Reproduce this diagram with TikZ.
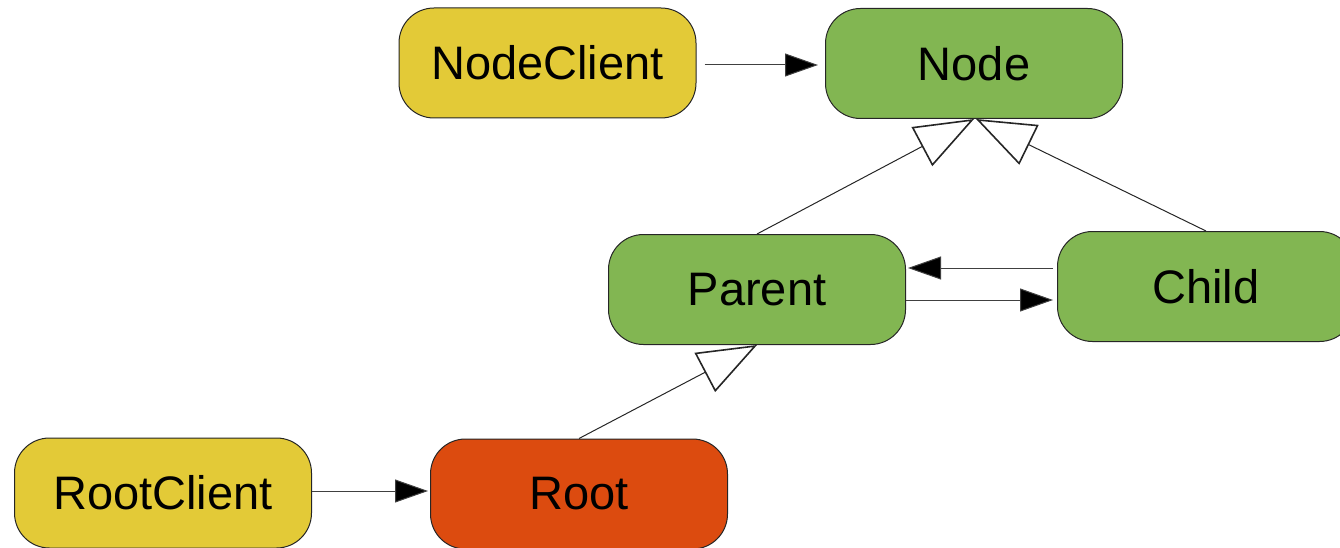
\documentclass[tikz,border=0pt]{standalone}
\usepackage{fontspec}
\setmainfont{Liberation Sans}
\usetikzlibrary{arrows.meta}
\definecolor{cyellow}{RGB}{227,202,55}
\definecolor{cgreen}{RGB}{130,182,82}
\definecolor{cred}{RGB}{220,75,15}
\tikzset{
  box/.style={draw=black!85, line width=1pt, rounded corners=35pt, minimum width=297pt, minimum height=110pt, inner sep=0pt, font=\fontsize{47}{52}\selectfont},
  assoc/.style={draw=black!75, line width=1pt, -{Triangle[length=33pt,width=23pt,fill=black]}},
  inherit/.style={draw=black!85, line width=1pt, -{Triangle[open,length=59pt,width=44pt,line width=1.6pt,fill=white]}}
}
\begin{document}
\begin{tikzpicture}[x=1pt,y=-1pt]
\useasboundingbox (0,0) rectangle (1340,548);
\clip (0,0) rectangle (1340,548);
\node[box, fill=cyellow] (nodeclient) at (547.5,63) {NodeClient};
\node[box, fill=cgreen] (node) at (974,63.5) {Node};
\node[box, fill=cgreen] (parent) at (757,289.5) {Parent};
\node[box, fill=cgreen] (child) at (1206,286.5) {Child};
\node[box, fill=cyellow] (rootclient) at (163,493) {RootClient};
\node[box, fill=cred] (root) at (579,494) {Root};
\draw[assoc] ([xshift=8pt,yshift=-2pt]nodeclient.east) -- ([xshift=-7pt,yshift=-1.5pt]node.west);
\draw[inherit] (parent.north) -- (node.south);
\draw[inherit] (child.north) -- ([xshift=2pt]node.south);
\draw[inherit] (root.north) -- (parent.south);
\draw[assoc] ([xshift=-4pt,yshift=18.5pt]child.west) -- ([xshift=2pt,yshift=21.5pt]parent.west -| parent.east);
\draw[assoc] ([yshift=-10.5pt]parent.east) -- ([xshift=-4pt,yshift=-13.5pt]child.west);
\draw[assoc] ([yshift=2pt]rootclient.east) -- ([xshift=-2pt,yshift=3pt]root.west);
\end{tikzpicture}
\end{document}
